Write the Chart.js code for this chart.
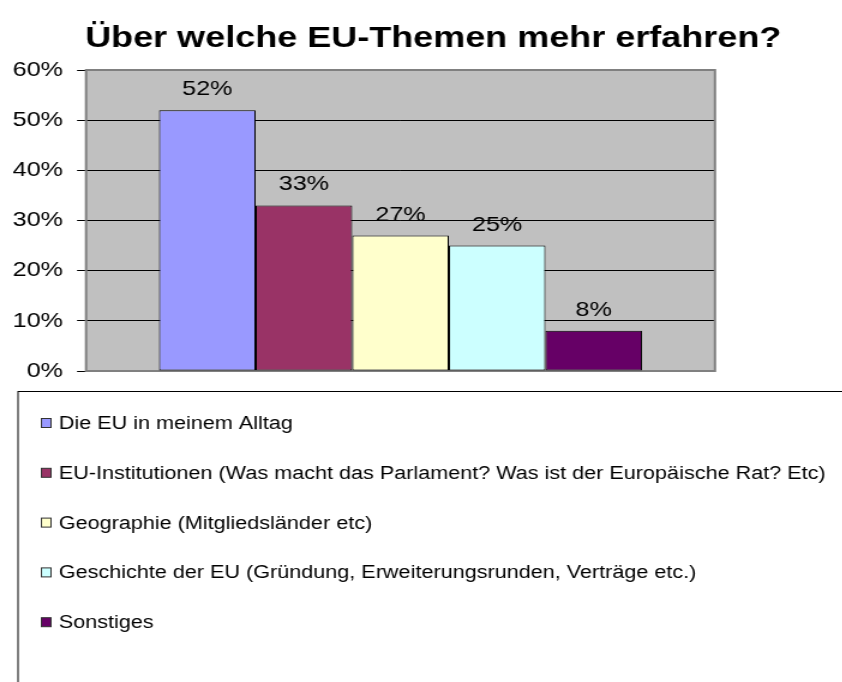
<!DOCTYPE html>
<html>
<head>
<meta charset="utf-8">
<script src="https://cdn.jsdelivr.net/npm/chart.js@4/dist/chart.umd.min.js"></script>
<style>
  html, body { margin: 0; padding: 0; background: #fff; overflow: hidden; }
  /* the original picture is stretched sideways, so the whole chart is too */
  #wrap { width: 702px; height: 682px; transform: scaleX(1.2); transform-origin: 0 0; }
</style>
</head>
<body>
<div id="wrap"><canvas id="euChart" width="702" height="682"></canvas></div>
<script>
// data
var titleText = 'Über welche EU-Themen mehr erfahren?';
var topics = [
    'Die EU in meinem Alltag',
    'EU-Institutionen (Was macht das Parlament? Was ist der Europäische Rat? Etc)',
    'Geographie (Mitgliedsländer etc)',
    'Geschichte der EU (Gründung, Erweiterungsrunden, Verträge etc.)',
    'Sonstiges'
];
var shares = [52, 33, 27, 25, 8];
var colors = ['#9999FF', '#993366', '#FFFFCC', '#CCFFFF', '#660066'];
var yTicks = [0, 10, 20, 30, 40, 50, 60];

var font = 'Arial, "Liberation Sans", sans-serif';

// one dataset per topic, all in a single category
var datasets = [];
for (var i = 0; i < topics.length; i++) {
    datasets.push({
        label: topics[i],
        data: [shares[i]],
        backgroundColor: colors[i],
        borderColor: '#000',
        borderWidth: 1,
        borderSkipped: false,
        categoryPercentage: 0.768,
        barPercentage: 1.0
    });
}

// gray plot area + border, drawn before grid / bars
var plotBg = {
    id: 'plotBg',
    beforeDraw: function(chart) {
        var a = chart.chartArea, c = chart.ctx;
        c.save();
        c.fillStyle = '#C0C0C0';
        c.fillRect(a.left, a.top, a.right - a.left, a.bottom - a.top);
        c.restore();
    },
    beforeDatasetsDraw: function(chart) {
        var a = chart.chartArea, c = chart.ctx;
        c.save();
        c.strokeStyle = '#808080';
        c.lineWidth = 2;
        c.strokeRect(a.left, a.top, a.right - a.left, a.bottom - a.top);
        c.restore();
    }
};

// title, value labels and the boxed legend
var extras = {
    id: 'extras',
    afterDraw: function(chart) {
        var c = chart.ctx;
        c.save();
        c.fillStyle = '#000';
        c.textAlign = 'center';
        c.textBaseline = 'alphabetic';
        c.font = 'bold 30px ' + font;
        c.fillText(titleText, 361, 47);

        c.font = '21px ' + font;
        chart.data.datasets.forEach(function(ds, i) {
            var bar = chart.getDatasetMeta(i).data[0];
            c.fillText(ds.data[0] + '%', bar.x, bar.y - 15);
        });

        // legend box
        c.strokeStyle = '#000';
        c.lineWidth = 1;
        c.strokeRect(15, 391.5, 900, 400);
        c.textAlign = 'left';
        c.textBaseline = 'middle';
        c.font = '18px ' + font;
        chart.data.datasets.forEach(function(ds, i) {
            var y = 423 + i * 49.8;
            c.fillStyle = ds.backgroundColor;
            c.fillRect(34.5, y - 4.5, 8, 9);
            c.strokeStyle = '#333';
            c.strokeRect(34.5, y - 4.5, 8, 9);
            c.fillStyle = '#000';
            c.fillText(ds.label, 49, y + 1);
        });
        c.restore();
    }
};

var ctx = document.getElementById('euChart').getContext('2d');
var euChart = new Chart(ctx, {
    type: 'bar',
    data: {
        labels: [''],
        datasets: datasets
    },
    options: {
        responsive: false,
        animation: false,
        layout: { padding: { top: 70, right: 106.2, bottom: 311, left: 0 } },
        plugins: {
            legend: { display: false },
            title: { display: false },
            tooltip: { enabled: false }
        },
        scales: {
            x: { display: false },
            y: {
                min: 0,
                max: 60,
                afterFit: function(scale) { scale.width = 71.7; },
                afterBuildTicks: function(scale) {
                    scale.ticks = yTicks.map(function(v) { return { value: v }; });
                },
                border: { display: true, color: '#404040', width: 1 },
                grid: {
                    color: function(c) {
                        return (c.tick.value === 0 || c.tick.value === 60) ? 'rgba(0,0,0,0)' : '#000';
                    },
                    tickColor: '#000',
                    tickLength: 7.5,
                    lineWidth: 1
                },
                ticks: {
                    padding: 11.7,
                    color: '#000',
                    font: { family: font, size: 21 },
                    callback: function(v) { return v + '%'; }
                }
            }
        }
    },
    plugins: [plotBg, extras]
});
</script>
</body>
</html>
